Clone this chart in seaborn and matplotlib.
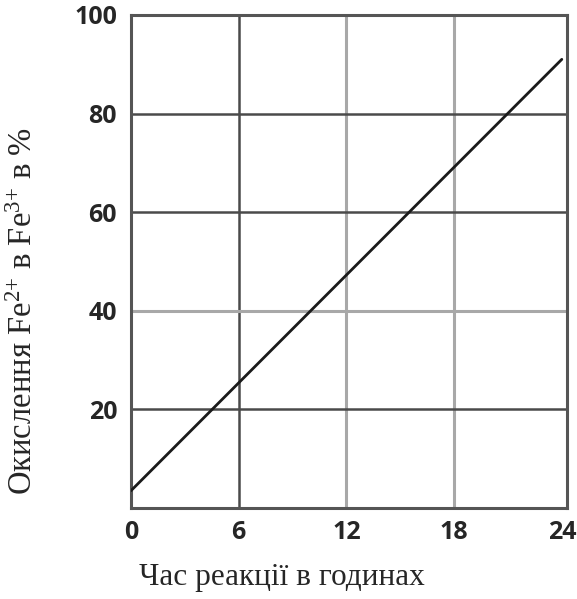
import matplotlib
matplotlib.use("Agg")
import matplotlib.pyplot as plt
import seaborn as sns
import pandas as pd

hours = [0, 24]
oxidation = [3.5, 91]
x_ticks = [0, 6, 12, 18, 24]
y_ticks = [20, 40, 60, 80, 100]
dark_x = [6]
light_x = [12, 18]
dark_y = [20, 60, 80]
light_y = [40]

sns.set_theme(style="white")
plt.rcParams['font.family'] = ['DejaVu Sans']
plt.rcParams['mathtext.fontset'] = 'custom'
plt.rcParams['mathtext.rm'] = 'Liberation Serif'
plt.rcParams['mathtext.it'] = 'Liberation Serif'
plt.rcParams['mathtext.default'] = 'rm'

fig = plt.figure(figsize=(5.77, 5.99), dpi=100)
ax = fig.add_axes([0.227, 0.152, 0.756, 0.823])

df = pd.DataFrame({"h": hours, "ox": oxidation})

for v in dark_x:
    ax.axvline(v, color="#4a4a4a", lw=1.8, zorder=1)
for v in light_x:
    ax.axvline(v, color="#a8a8a8", lw=2.2, zorder=1)
for v in dark_y:
    ax.axhline(v, color="#4a4a4a", lw=1.8, zorder=1)
for v in light_y:
    ax.axhline(v, color="#a8a8a8", lw=2.2, zorder=1)

sns.lineplot(data=df, x="h", y="ox", ax=ax, color="#1a1a1a", lw=2, zorder=3)

ax.set_xlim(0, 24.3)
ax.set_ylim(0, 100)
ax.set_xticks(x_ticks)
ax.set_yticks(y_ticks)
ax.set_xticklabels([str(t) for t in x_ticks], fontfamily="Open Sans", fontweight="bold", fontsize=18)
ax.set_yticklabels([str(t) for t in y_ticks], fontfamily="Open Sans", fontweight="bold", fontsize=18)
ax.tick_params(axis="x", length=0, pad=9)
ax.tick_params(axis="y", length=0, pad=10)
for s in ax.spines.values():
    s.set_color("#555555")
    s.set_linewidth(2.2)

ax.set_xlabel("Час реакції в годинах", fontfamily="Liberation Serif", fontsize=22.5)
ax.xaxis.set_label_coords(0.345, -0.112)
ax.set_ylabel(r"Окислення Fe$^{2{+}}$ в Fe$^{3{+}}$ в %", fontfamily="Liberation Serif", fontsize=23.5)
ax.yaxis.set_label_coords(-0.21, 0.40)

fig.savefig("out.png", dpi=100)
